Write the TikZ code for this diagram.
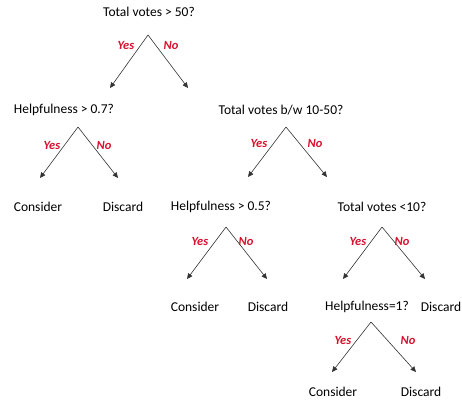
\documentclass[tikz,border=0pt]{standalone}
\usepackage{fontspec}
\setmainfont{Carlito}
\usetikzlibrary{arrows.meta}
\definecolor{yesno}{HTML}{D8102E}
\definecolor{edge}{HTML}{333333}
\tikzset{
  q/.style={inner sep=0pt, font=\fontsize{13.5}{15}\selectfont, text=black},
  branch/.style={draw=edge, line width=0.6pt, -{Triangle[length=5.5pt,width=5pt]}},
  lbl/.style={inner sep=0pt, font=\fontsize{12.5}{14}\selectfont\bfseries\itshape, text=yesno},
}
\begin{document}
\begin{tikzpicture}[x=1pt,y=-1pt]
\useasboundingbox (0,0) rectangle (462,400);

% questions and leaves
\node[q] (n1) at (149,12) {Total votes > 50?};
\node[q] (n2) at (64,110) {Helpfulness > 0.7?};
\node[q] (n3) at (281,110) {Total votes b/w 10-50?};
\node[q] (c1) at (38,207) {Consider};
\node[q] (d1) at (123,207) {Discard};
\node[q] (n4) at (221,207) {Helpfulness > 0.5?};
\node[q] (n5) at (382,207) {Total votes <10?};
\node[q] (c2) at (195,307) {Consider};
\node[q] (d2) at (268,307) {Discard};
\node[q] (n6) at (367,307) {Helpfulness=1?};
\node[q] (d3) at (441,307) {Discard};
\node[q] (c3) at (333,392) {Consider};
\node[q] (d4) at (421,392) {Discard};

% split points and arrow ends
\coordinate (a1) at (148,35);  \coordinate (l1) at (110,88);  \coordinate (r1) at (188,88);
\coordinate (a2) at (78,127);  \coordinate (l2) at (40,178);  \coordinate (r2) at (118,178);
\coordinate (a3) at (286,127); \coordinate (l3) at (248,177); \coordinate (r3) at (327,177);
\coordinate (a4) at (226,227); \coordinate (l4) at (187,279); \coordinate (r4) at (267,279);
\coordinate (a5) at (382,227); \coordinate (l5) at (343,279); \coordinate (r5) at (425,279);
\coordinate (a6) at (371,322); \coordinate (l6) at (332,372); \coordinate (r6) at (416,372);

\foreach \i in {1,...,6}{
  \draw[branch] (a\i) -- (l\i);
  \draw[branch] (a\i) -- (r\i);
}

% branch labels
\node[lbl] (y1) at (126,45) {Yes};  \node[lbl] (o1) at (171,45) {No};
\node[lbl] (y2) at (52,145) {Yes};  \node[lbl] (o2) at (104,145) {No};
\node[lbl] (y3) at (259,143) {Yes}; \node[lbl] (o3) at (315,143) {No};
\node[lbl] (y4) at (200,241) {Yes}; \node[lbl] (o4) at (246,241) {No};
\node[lbl] (y5) at (358,241) {Yes}; \node[lbl] (o5) at (402,241) {No};
\node[lbl] (y6) at (343,340) {Yes}; \node[lbl] (o6) at (408,340) {No};
\end{tikzpicture}
\end{document}
